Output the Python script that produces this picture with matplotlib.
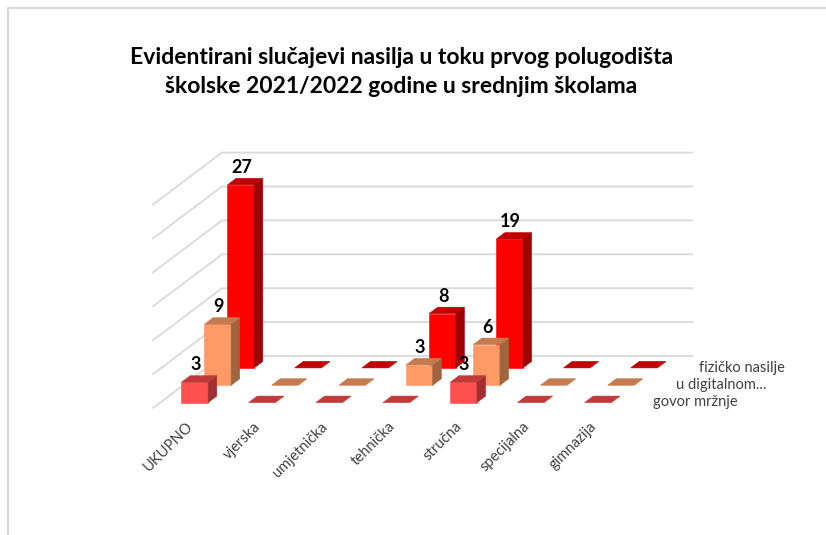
import matplotlib
matplotlib.use("Agg")
import matplotlib.pyplot as plt
from matplotlib.patches import Polygon

plt.rcParams['font.family'] = ['Lato', 'DejaVu Sans']

# === data ===
categories = ["UKUPNO", "vjerska", "umjetnička", "tehnička", "stručna", "specijalna", "gimnazija"]
fizicko = [27, 0, 0, 8, 19, 0, 0]
digitalno = [9, 0, 0, 3, 6, 0, 0]
govor = [3, 0, 0, 0, 3, 0, 0]
series_names = ["fizičko nasilje", "u digitalnom...", "govor mržnje"]
series_values = [fizicko, digitalno, govor]
title = "Evidentirani slučajevi nasilja u toku prvog polugodišta\nškolske 2021/2022 godine u srednjim školama"

# === colours: front, top, side ===
colors = [("#ff0000", "#c00000", "#a00000"),
          ("#ff9966", "#c67a50", "#a0653f"),
          ("#ff5050", "#c03a3a", "#a33030")]
grid_color = "#d9d9d9"

# === oblique projection, depth 0 is the back wall and 3 the front edge ===
W, H = 826, 535
cat_px = 67.2     # px per category
val_px = 6.78     # px per value unit
depth_dx = -23.0 / cat_px   # shift per series, in category units
depth_dy = -17.33 / val_px  # shift per series, in value units
bar_w = 0.397
bar_d = 0.375
ymax = 30
ystep = 5


def proj(c, d, v):
    return c + depth_dx * d, v + depth_dy * d


def bar(ax, c, d, v, cols):
    front, top, side = cols
    c0, c1 = c - bar_w / 2, c + bar_w / 2
    d0, d1 = d - bar_d / 2, d + bar_d / 2  # d1 is the front
    if v > 0:
        ax.add_patch(Polygon([proj(c0, d1, 0), proj(c1, d1, 0), proj(c1, d1, v), proj(c0, d1, v)],
                             fc=front, ec=front, lw=0.4, zorder=5 + d))
        ax.add_patch(Polygon([proj(c1, d1, 0), proj(c1, d0, 0), proj(c1, d0, v), proj(c1, d1, v)],
                             fc=side, ec=side, lw=0.4, zorder=5 + d))
    ax.add_patch(Polygon([proj(c0, d1, v), proj(c1, d1, v), proj(c1, d0, v), proj(c0, d0, v)],
                         fc=top, ec=top, lw=0.4, zorder=5 + d))


fig = plt.figure(figsize=(W / 100, H / 100), dpi=100)
ax = fig.add_axes([0, 0, 1, 1])
ax.set_xlim(-222 / cat_px, (W - 222) / cat_px)
ax.set_ylim((356 - H) / val_px, 356 / val_px)
ax.axis("off")

# chart border, cut by the picture on the right and at the bottom
ax.plot([8 / W, 8 / W, 1], [0, 1 - 8 / H, 1 - 8 / H], transform=ax.transAxes,
        color="#d9d9d9", lw=1.5, zorder=1)

# walls
n = len(categories)
for v in range(0, ymax + 1, ystep):
    xs, ys = zip(proj(0, 3, v), proj(0, 0, v), proj(n, 0, v))
    ax.plot(xs, ys, color=grid_color, lw=1.3, zorder=2)

# bars
for d, (vals, cols) in enumerate(zip(series_values, colors)):
    for c, v in enumerate(vals):
        bar(ax, c + 0.515, d + 0.5, v, cols)
        if v > 0:
            x, y = proj(c + 0.5, d + 0.5, v)
            ax.text(x - 0.04, y + 0.85, str(v), ha="center", va="bottom", fontsize=13,
                    fontweight="bold", color="black", zorder=20)

# category labels
for c, name in enumerate(categories):
    x, y = proj(c + 0.5, 3, 0)
    ax.text(x - 0.01, y - 1.7, name, rotation=45, rotation_mode="anchor", ha="right", va="top",
            fontsize=10.6, color="#404040", zorder=10)

# series labels on the depth axis
for d, name in enumerate(series_names):
    x, y = proj(n, d + 0.5, 0)
    ax.text(x + 0.265, y - 0.45, name, ha="left", va="center", fontsize=10.5, color="#404040", zorder=10)

fig.text(0.486, 1 - 72 / H, title, ha="center", va="center", fontsize=16.5, fontweight="bold",
         color="black", linespacing=1.42)

fig.savefig("out.png", dpi=100)
